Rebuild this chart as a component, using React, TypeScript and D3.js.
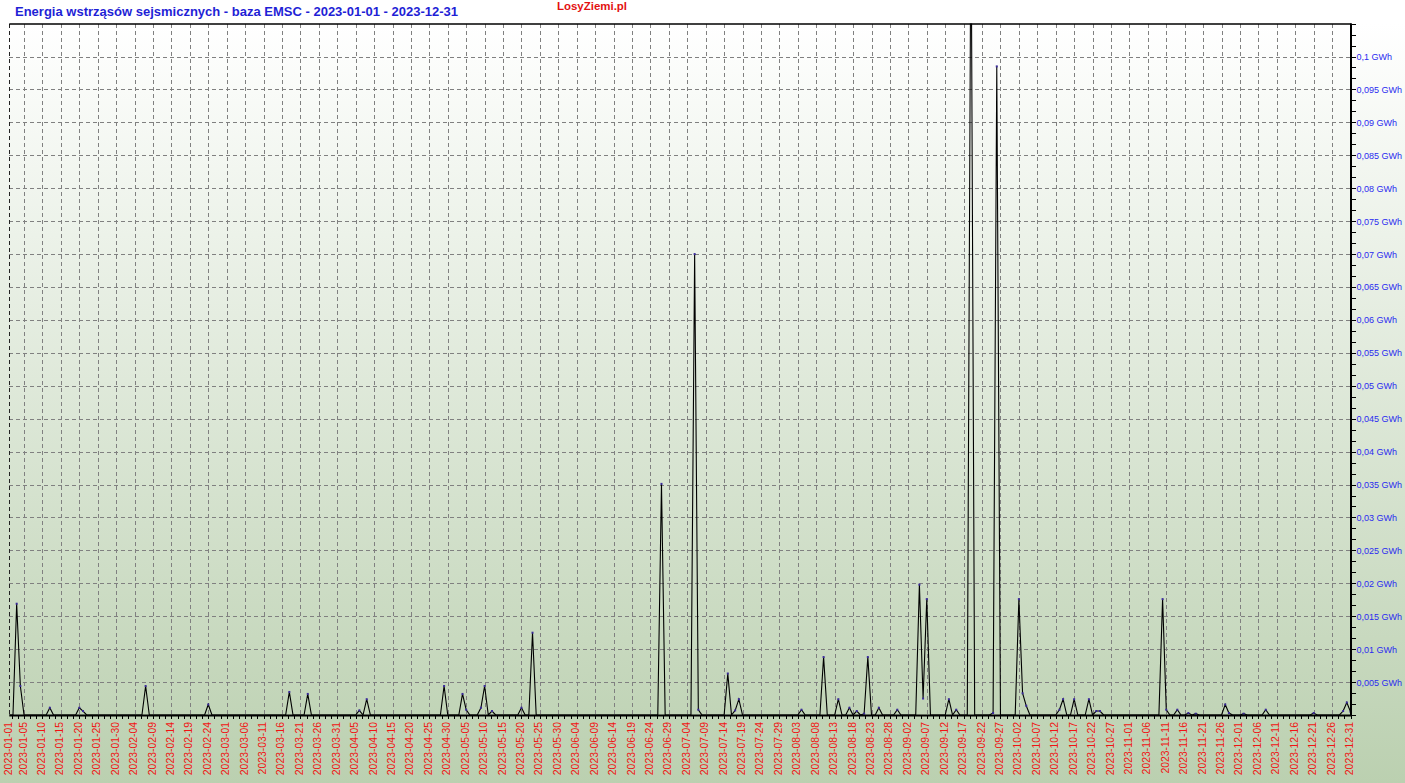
import React from "react";
import * as d3 from "d3";

// ---------- data ----------
const TITLE = "Energia wstrząsów sejsmicznych - baza EMSC - 2023-01-01 - 2023-12-31";
const BRAND = "LosyZiemi.pl";
const START_DATE = "2023-01-01";
const END_DATE = "2023-12-31";

// day index (0 = 2023-01-01) of every day with a non-zero energy value
const eventDay = [
  2, 3, 11, 19, 20, 37, 54, 76, 81, 95, 97, 118, 123, 124, 128, 129, 131, 139, 142,
  177, 186, 187, 195, 197, 198, 215, 221, 225, 228, 230, 232, 233, 236, 241,
  247, 248, 249, 255, 257, 261, 267, 268, 274, 275, 276, 285, 286, 289, 293, 295, 296,
  313, 314, 317, 320, 322, 330, 331, 335, 341, 354, 362, 363, 364,
];
// daily energy, GWh
const eventEnergy = [
  0.0169, 0.0044, 0.0011, 0.0011, 0.0006, 0.0044, 0.0016, 0.0035, 0.0032, 0.0007, 0.0024, 0.0044, 0.0032, 0.0008, 0.0011, 0.0044, 0.0006, 0.0011, 0.0125,
  0.0351, 0.07, 0.0008, 0.0063, 0.0007, 0.0024, 0.0008, 0.0088, 0.0024, 0.0011, 0.0006, 0.0002, 0.0088, 0.0011, 0.0008,
  0.0198, 0.0025, 0.0176, 0.0024, 0.0008, 0.125, 0.0003, 0.0985, 0.0176, 0.0033, 0.0014, 0.0008, 0.0024, 0.0024, 0.0024, 0.0006, 0.0006,
  0.0176, 0.0008, 0.0008, 0.0003, 0.0002, 0.0016, 0.0003, 0.0002, 0.0008, 0.0003, 0.0006, 0.0019, 0.0005,
];

const yTickValues = [
  0.005, 0.01, 0.015, 0.02, 0.025, 0.03, 0.035, 0.04, 0.045, 0.05,
  0.055, 0.06, 0.065, 0.07, 0.075, 0.08, 0.085, 0.09, 0.095, 0.1,
];
const Y_MAX = 0.105;
const X_LABEL_STEP_DAYS = 5;
const X_FIRST_STEP_DAY = 4;

// ---------- layout ----------
const W = 1405;
const H = 783;
const L = 9.3;
const R = 1350.5;
const T = 23.6;
const B = 715;

export default function App() {
  const parse = d3.utcParse("%Y-%m-%d");
  const fmt = d3.utcFormat("%Y-%m-%d");
  const start = parse(START_DATE) as Date;
  const end = parse(END_DATE) as Date;
  const nDays = d3.utcDay.count(start, end) + 1;

  const x = d3.scaleUtc().domain([start, end]).range([L, R]);
  const y = d3.scaleLinear().domain([0, Y_MAX]).range([B, T]);

  const energyByDay = new Map<number, number>();
  eventDay.forEach((d, i) => energyByDay.set(d, eventEnergy[i]));
  const series = d3.range(nDays).map((d) => ({
    date: d3.utcDay.offset(start, d),
    v: energyByDay.get(d) ?? 0,
  }));

  const line = d3
    .line<{ date: Date; v: number }>()
    .x((p) => x(p.date))
    .y((p) => y(p.v));

  const xTickDays = [0, ...d3.range(X_FIRST_STEP_DAY, nDays, X_LABEL_STEP_DAYS)];
  const xTicks = xTickDays.map((d) => d3.utcDay.offset(start, d));
  const xMinor = d3
    .range(0, 3 * 80)
    .map((k) => X_FIRST_STEP_DAY - (5 / 3) * 2 + (k * X_LABEL_STEP_DAYS) / 3)
    .filter((d) => d >= 0 && d <= nDays - 1)
    .map((d) => x(new Date(start.getTime() + d * 86400000)));
  const yMinor = d3.range(0, 64).map((k) => (k * 0.005) / 3).filter((v) => v <= Y_MAX);

  const yFmt = (v: number) => String(+v.toFixed(3)).replace(".", ",") + " GWh";
  const font = "'Liberation Sans', Arial, sans-serif";

  return (
    <svg
      width={W}
      height={H}
      style={{ position: "absolute", left: 0, top: 0, display: "block" }}
    >
      <defs>
        <linearGradient id="bg" x1="0" y1="0" x2="0" y2={H} gradientUnits="userSpaceOnUse">
          <stop offset="0" stopColor="#ffffff" />
          <stop offset={T / H} stopColor="#ffffff" />
          <stop offset="1" stopColor="#bbd0b0" />
        </linearGradient>
        <clipPath id="plot">
          <rect x={L - 1} y={T} width={R - L + 2} height={B - T} />
        </clipPath>
      </defs>
      <rect x={0} y={0} width={W} height={H} fill="url(#bg)" />

      {/* grid */}
      <g stroke="#808080" strokeDasharray="4,3" shapeRendering="crispEdges">
        {yTickValues.map((v) => (
          <line key={v} x1={L} x2={R} y1={Math.round(y(v)) + 0.5} y2={Math.round(y(v)) + 0.5} />
        ))}
        {xTicks.slice(1).map((t, i) => (
          <line key={i} x1={Math.round(x(t)) + 0.5} x2={Math.round(x(t)) + 0.5} y1={T} y2={B} />
        ))}
      </g>
      {/* left edge dashed */}
      <line x1={L + 0.2} x2={L + 0.2} y1={T} y2={B} stroke="#222" strokeDasharray="4,3" shapeRendering="crispEdges" />

      {/* data line */}
      <g clipPath="url(#plot)">
        <path d={line(series) ?? ""} fill="none" stroke="#000" strokeWidth={1.1} />
        {series
          .filter((p) => p.v > 0)
          .map((p, i) => (
            <rect key={i} x={x(p.date) - 1} y={y(p.v) - 1} width={2} height={2} fill="#3a2a9a" />
          ))}
      </g>

      {/* frame */}
      <line x1={L} x2={R + 1} y1={T + 0.5} y2={T + 0.5} stroke="#000" strokeWidth={1.5} />
      <line x1={R + 0.5} x2={R + 0.5} y1={T} y2={B + 1} stroke="#000" strokeWidth={2} />
      <line x1={L} x2={R + 1} y1={B + 0.5} y2={B + 0.5} stroke="#000" strokeWidth={2} />

      {/* y ticks */}
      <g stroke="#000" shapeRendering="crispEdges">
        {yMinor.map((v, i) => (
          <line key={i} x1={R + 1} x2={R + 5} y1={Math.round(y(v)) + 0.5} y2={Math.round(y(v)) + 0.5} />
        ))}
      </g>
      <g fontFamily={font} fontSize={9} fill="#2a2af0">
        {yTickValues.map((v) => (
          <text key={v} x={R + 6} y={y(v) + 3.5}>
            {yFmt(v)}
          </text>
        ))}
      </g>

      {/* x ticks */}
      <g stroke="#000" shapeRendering="crispEdges">
        {xMinor.map((px, i) => (
          <line key={i} x1={Math.round(px) + 0.5} x2={Math.round(px) + 0.5} y1={B + 1} y2={B + 4} />
        ))}
      </g>
      <g fontFamily={font} fontSize={10.4} fill="#f01414">
        {xTicks.map((t, i) => (
          <text
            key={i}
            transform={`translate(${x(t) + 2.5},${B + 7}) rotate(-90)`}
            textAnchor="end"
          >
            {fmt(t)}
          </text>
        ))}
      </g>

      {/* titles */}
      <text
        x={15}
        y={16}
        fontFamily={font}
        fontWeight="bold"
        fontSize={13}
        fill="#1f1fd6"
        textLength={443}
        lengthAdjust="spacingAndGlyphs"
      >
        {TITLE}
      </text>
      <text
        x={557}
        y={10}
        fontFamily={font}
        fontWeight="bold"
        fontSize={11.5}
        fill="#e31010"
        textLength={70}
        lengthAdjust="spacingAndGlyphs"
      >
        {BRAND}
      </text>
    </svg>
  );
}
